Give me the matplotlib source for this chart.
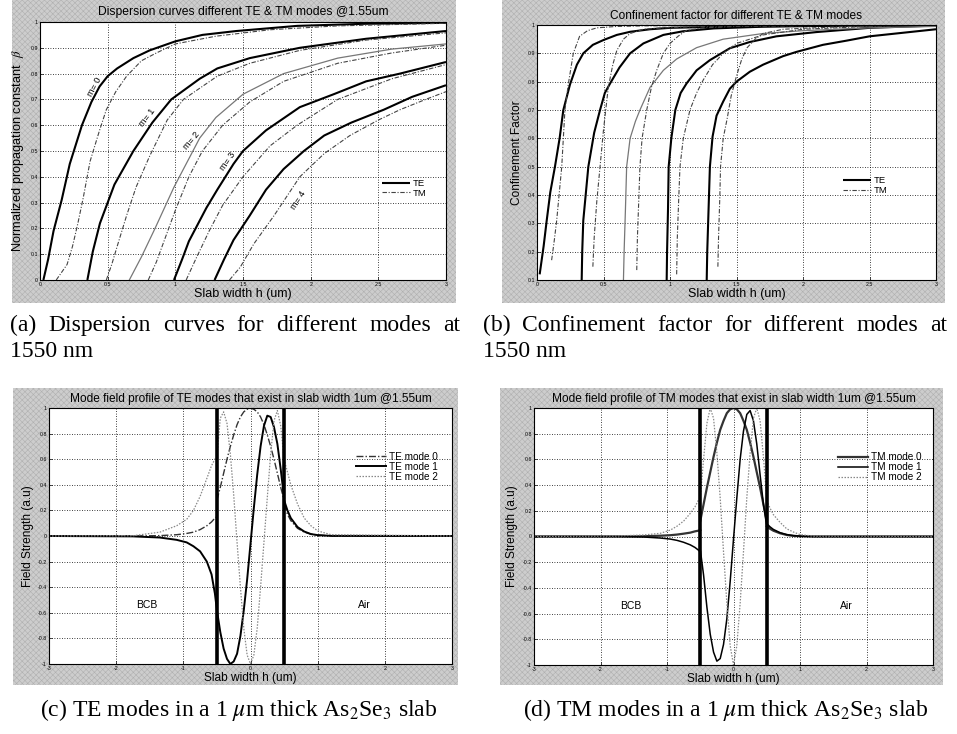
import matplotlib
matplotlib.use("Agg")
import matplotlib.pyplot as plt
from matplotlib.patches import Rectangle

plt.rcParams['font.family'] = ['Liberation Sans', 'DejaVu Sans']
plt.rcParams['mathtext.fontset'] = 'stix'
plt.rcParams['hatch.linewidth'] = 0.4

# ---------------- (a) dispersion curves, h in um, beta normalized ----------------
te0_h = [0.025, 0.06, 0.10, 0.16, 0.22, 0.31, 0.38, 0.44, 0.50, 0.57, 0.69, 0.81, 1.0, 1.2, 1.45, 1.9, 2.4, 3.0]
te0_b = [0.0, 0.08, 0.19, 0.31, 0.45, 0.60, 0.69, 0.75, 0.79, 0.82, 0.86, 0.89, 0.925, 0.95, 0.965, 0.985, 0.993, 0.997]
tm0_h = [0.12, 0.20, 0.24, 0.28, 0.32, 0.37, 0.44, 0.49, 0.56, 0.64, 0.75, 0.86, 1.0, 1.3, 1.7, 2.2, 3.0]
tm0_b = [0.0, 0.06, 0.13, 0.22, 0.32, 0.46, 0.58, 0.66, 0.73, 0.79, 0.85, 0.88, 0.915, 0.945, 0.97, 0.985, 0.995]
te1_h = [0.35, 0.39, 0.443, 0.55, 0.69, 0.83, 0.97, 1.18, 1.31, 1.55, 1.92, 2.41, 3.0]
te1_b = [0.0, 0.11, 0.22, 0.37, 0.50, 0.61, 0.70, 0.78, 0.82, 0.86, 0.90, 0.935, 0.965]
tm1_h = [0.49, 0.53, 0.57, 0.64, 0.71, 0.81, 0.94, 1.06, 1.31, 1.55, 1.92, 2.41, 3.0]
tm1_b = [0.0, 0.06, 0.13, 0.25, 0.36, 0.48, 0.62, 0.70, 0.79, 0.84, 0.89, 0.93, 0.958]
te2_h = [0.66, 0.75, 0.85, 0.99, 1.10, 1.18, 1.30, 1.50, 1.80, 2.20, 2.60, 3.0]
te2_b = [0.0, 0.09, 0.20, 0.36, 0.47, 0.55, 0.63, 0.72, 0.80, 0.86, 0.895, 0.915]
tm2_h = [0.80, 0.86, 0.93, 1.0, 1.1, 1.2, 1.35, 1.55, 1.8, 2.2, 2.6, 3.0]
tm2_b = [0.0, 0.07, 0.17, 0.27, 0.40, 0.50, 0.60, 0.69, 0.77, 0.84, 0.88, 0.91]
te3_h = [0.99, 1.05, 1.10, 1.16, 1.23, 1.31, 1.43, 1.50, 1.67, 1.92, 2.17, 2.41, 2.66, 3.0]
te3_b = [0.0, 0.08, 0.15, 0.21, 0.28, 0.35, 0.45, 0.50, 0.58, 0.67, 0.72, 0.77, 0.80, 0.845]
tm3_h = [1.08, 1.15, 1.25, 1.35, 1.5, 1.7, 1.9, 2.2, 2.6, 3.0]
tm3_b = [0.0, 0.08, 0.19, 0.29, 0.40, 0.52, 0.60, 0.70, 0.78, 0.835]
te4_h = [1.29, 1.36, 1.43, 1.55, 1.67, 1.80, 1.95, 2.10, 2.30, 2.54, 2.75, 3.0]
te4_b = [0.0, 0.08, 0.155, 0.25, 0.35, 0.43, 0.50, 0.56, 0.61, 0.66, 0.71, 0.755]
tm4_h = [1.40, 1.48, 1.58, 1.73, 1.92, 2.10, 2.29, 2.50, 2.66, 2.85, 3.0]
tm4_b = [0.0, 0.05, 0.14, 0.25, 0.40, 0.49, 0.56, 0.62, 0.66, 0.70, 0.73]
m_labels = ['m= 0', 'm= 1', 'm= 2', 'm= 3', 'm= 4']
m_lab_h = [0.40, 0.79, 1.12, 1.39, 1.91]
m_lab_b = [0.75, 0.63, 0.54, 0.46, 0.31]
m_lab_rot = [62, 52, 50, 55, 57]

# ---------------- (b) confinement factor ----------------
cte0_h = [0.02, 0.05, 0.073, 0.10, 0.135, 0.17, 0.198, 0.248, 0.30, 0.348, 0.42, 0.5, 0.6, 0.7, 0.85, 1.0, 1.5, 2.0, 3.0]
cte0_g = [0.12, 0.22, 0.31, 0.41, 0.50, 0.60, 0.70, 0.79, 0.86, 0.90, 0.93, 0.947, 0.965, 0.976, 0.985, 0.99, 0.995, 0.997, 0.999]
ctm0_h = [0.11, 0.13, 0.148, 0.17, 0.186, 0.21, 0.235, 0.273, 0.32, 0.38, 0.45, 0.6, 0.8, 1.2, 2.0, 3.0]
ctm0_g = [0.17, 0.24, 0.31, 0.42, 0.50, 0.70, 0.79, 0.90, 0.96, 0.98, 0.99, 0.995, 0.997, 0.998, 0.999, 1.0]
cte1_h = [0.336, 0.34, 0.348, 0.37, 0.386, 0.43, 0.474, 0.51, 0.55, 0.62, 0.70, 0.8, 0.95, 1.1, 1.33, 1.7, 2.2, 3.0]
cte1_g = [0.1, 0.2, 0.31, 0.42, 0.50, 0.62, 0.70, 0.76, 0.794, 0.85, 0.90, 0.935, 0.965, 0.978, 0.988, 0.994, 0.997, 0.999]
ctm1_h = [0.42, 0.43, 0.45, 0.474, 0.5, 0.536, 0.57, 0.6, 0.65, 0.7, 0.8, 0.95, 1.3, 2.0, 3.0]
ctm1_g = [0.147, 0.25, 0.38, 0.50, 0.63, 0.78, 0.86, 0.91, 0.95, 0.97, 0.985, 0.99, 0.996, 0.998, 1.0]
cte2_h = [0.65, 0.655, 0.665, 0.674, 0.7, 0.74, 0.774, 0.85, 0.95, 1.05, 1.2, 1.4, 1.7, 2.0, 2.5, 3.0]
cte2_g = [0.1, 0.2, 0.35, 0.5, 0.6, 0.66, 0.70, 0.78, 0.84, 0.88, 0.92, 0.95, 0.97, 0.98, 0.99, 0.995]
ctm2_h = [0.75, 0.755, 0.765, 0.774, 0.79, 0.825, 0.86, 0.9, 0.95, 1.0, 1.06, 1.12, 1.25, 1.5, 2.0, 3.0]
ctm2_g = [0.135, 0.25, 0.38, 0.50, 0.6, 0.70, 0.78, 0.84, 0.90, 0.935, 0.96, 0.98, 0.99, 0.995, 0.998, 1.0]
cte3_h = [0.975, 0.978, 0.985, 0.99, 1.01, 1.04, 1.08, 1.125, 1.2, 1.3, 1.45, 1.6, 1.8, 2.1, 2.5, 3.0]
cte3_g = [0.1, 0.2, 0.35, 0.5, 0.6, 0.70, 0.76, 0.794, 0.84, 0.876, 0.918, 0.94, 0.96, 0.975, 0.99, 0.998]
ctm3_h = [1.05, 1.055, 1.065, 1.075, 1.1, 1.15, 1.2, 1.25, 1.32, 1.4, 1.5, 1.7, 2.0, 2.5, 3.0]
ctm3_g = [0.12, 0.25, 0.38, 0.5, 0.6, 0.70, 0.76, 0.806, 0.86, 0.9, 0.935, 0.965, 0.985, 0.995, 1.0]
cte4_h = [1.276, 1.28, 1.29, 1.30, 1.32, 1.35, 1.4, 1.45, 1.5, 1.6, 1.7, 1.85, 1.95, 2.15, 2.33, 2.5, 2.7, 3.0]
cte4_g = [0.1, 0.2, 0.35, 0.5, 0.606, 0.68, 0.73, 0.775, 0.80, 0.835, 0.86, 0.89, 0.905, 0.93, 0.945, 0.96, 0.97, 0.985]
ctm4_h = [1.36, 1.365, 1.375, 1.38, 1.4, 1.43, 1.46, 1.5, 1.54, 1.58, 1.64, 1.7, 1.85, 2.08, 2.5, 3.0]
ctm4_g = [0.147, 0.25, 0.4, 0.5, 0.6, 0.67, 0.75, 0.82, 0.88, 0.92, 0.95, 0.97, 0.985, 0.99, 0.997, 1.0]

# ---------------- (c) TE mode fields ----------------
core_x = [-0.5, -0.45, -0.4, -0.35, -0.3, -0.25, -0.2, -0.15, -0.1, -0.05, 0.0,
          0.05, 0.1, 0.15, 0.2, 0.25, 0.3, 0.35, 0.4, 0.45, 0.5]
left_x = [-3.0, -1.75, -1.35, -1.1, -0.95, -0.85, -0.75, -0.65, -0.58, -0.53, -0.5]
right_x = [0.5, 0.55, 0.6, 0.7, 0.8, 0.9, 1.0, 1.2, 3.0]

te_m0_core = [0.28, 0.38, 0.49, 0.60, 0.70, 0.79, 0.87, 0.93, 0.97, 0.99, 1.0,
              0.99, 0.97, 0.93, 0.87, 0.79, 0.70, 0.60, 0.49, 0.38, 0.28]
te_m0_left = [0.0, 0.0, 0.003, 0.01, 0.02, 0.03, 0.05, 0.08, 0.11, 0.14, 0.15]
te_m0_right = [0.25, 0.17, 0.12, 0.06, 0.03, 0.015, 0.007, 0.001, 0.0]
te_m1_core = [-0.58, -0.75, -0.88, -0.96, -1.0, -0.98, -0.92, -0.78, -0.58, -0.34, -0.06,
              0.22, 0.48, 0.70, 0.86, 0.94, 0.93, 0.85, 0.72, 0.52, 0.30]
te_m1_left = [0.0, -0.003, -0.012, -0.03, -0.05, -0.08, -0.12, -0.2, -0.3, -0.45, -0.58]
te_m1_right = [0.28, 0.2, 0.14, 0.07, 0.035, 0.015, 0.007, 0.001, 0.0]
te_m2_core = [0.62, 0.92, 0.97, 0.88, 0.64, 0.32, -0.05, -0.40, -0.72, -0.93, -1.0,
              -0.93, -0.72, -0.40, -0.05, 0.30, 0.64, 0.90, 0.98, 0.86, 0.60]
te_m2_left = [0.0, 0.002, 0.03, 0.08, 0.13, 0.2, 0.31, 0.45, 0.55, 0.6, 0.62]
te_m2_right = [0.6, 0.5, 0.4, 0.25, 0.14, 0.08, 0.04, 0.01, 0.0]

# ---------------- (d) TM mode fields ----------------
tm_m0_core = [0.12, 0.25, 0.38, 0.50, 0.62, 0.73, 0.83, 0.90, 0.96, 0.99, 1.0,
              0.99, 0.96, 0.90, 0.83, 0.73, 0.62, 0.50, 0.38, 0.25, 0.12]
tm_m0_left = [0.0, 0.0, 0.002, 0.006, 0.01, 0.015, 0.022, 0.03, 0.04, 0.045, 0.05]
tm_m0_right = [0.08, 0.06, 0.045, 0.025, 0.012, 0.005, 0.002, 0.0, 0.0]
tm_m1_core = [-0.10, -0.30, -0.55, -0.76, -0.90, -0.97, -0.95, -0.84, -0.64, -0.35, -0.02,
              0.30, 0.60, 0.82, 0.95, 0.98, 0.90, 0.72, 0.48, 0.25, 0.08]
tm_m1_left = [0.0, 0.0, -0.004, -0.012, -0.02, -0.03, -0.045, -0.065, -0.085, -0.105, -0.12]
tm_m1_right = [0.10, 0.075, 0.055, 0.03, 0.015, 0.007, 0.003, 0.0, 0.0]
tm_m2_core = [0.30, 0.60, 0.88, 1.0, 0.92, 0.65, 0.30, -0.12, -0.52, -0.85, -1.0,
              -0.85, -0.52, -0.12, 0.30, 0.65, 0.92, 1.0, 0.90, 0.62, 0.30]
tm_m2_left = [0.0, 0.004, 0.012, 0.025, 0.05, 0.08, 0.12, 0.18, 0.23, 0.28, 0.30]
tm_m2_right = [0.28, 0.22, 0.17, 0.11, 0.06, 0.035, 0.015, 0.003, 0.0]

cap_a = ['(a) Dispersion curves for different modes at', '1550 nm']
cap_b = ['(b) Confinement factor for different modes at', '1550 nm']
cap_c = r'(c) TE modes in a 1 $\mu$m thick As$_2$Se$_3$ slab'
cap_d = r'(d) TM modes in a 1 $\mu$m thick As$_2$Se$_3$ slab'

W, H = 957, 734
fig = plt.figure(figsize=(W / 100, H / 100), dpi=100)
fig.patch.set_facecolor('white')

# scanned (halftoned) grey frames behind each matlab figure
for (x0, y0, x1, y1) in [(12, 0, 456, 303), (502, 0, 945, 303), (13, 388, 458, 685), (500, 388, 943, 685)]:
    fig.patches.append(Rectangle((x0 / W, 1 - y1 / H), (x1 - x0) / W, (y1 - y0) / H,
                                 transform=fig.transFigure, facecolor='#cdcdcd', edgecolor='#b0b0b0',
                                 hatch='xxxxxx', linewidth=0, zorder=-10))


def make_ax(px):
    l, t, r, b = px
    ax = fig.add_axes([l / W, 1 - b / H, (r - l) / W, (b - t) / H])
    ax.set_facecolor('white')
    ax.grid(True, linestyle=(0, (1, 2)), color='black', linewidth=0.6)
    ax.tick_params(direction='in', length=2.5, labelsize=3.8, pad=1.5, width=0.5)
    for s in ax.spines.values():
        s.set_linewidth(0.8)
    return ax


TEK = dict(color='black', linewidth=1.5, solid_capstyle='butt')
TMK = dict(color='#444444', linewidth=0.8, linestyle=(0, (4, 1.5, 1, 1.5)))

# (a)
ax = make_ax((40, 22, 446, 280))
ax.plot(te0_h, te0_b, **TEK)
ax.plot(te1_h, te1_b, **TEK)
ax.plot(te2_h, te2_b, color='#777777', linewidth=0.9)
ax.plot(te3_h, te3_b, **TEK)
ax.plot(te4_h, te4_b, **TEK)
for hh, bb in [(tm0_h, tm0_b), (tm1_h, tm1_b), (tm2_h, tm2_b), (tm3_h, tm3_b), (tm4_h, tm4_b)]:
    ax.plot(hh, bb, **TMK)
for lab, xx, yy, rr in zip(m_labels, m_lab_h, m_lab_b, m_lab_rot):
    ax.text(xx, yy, lab, rotation=rr, fontsize=6.5, ha='center', va='center')
ax.set_xlim(0, 3)
ax.set_ylim(0, 1)
ax.set_xticks([0, 0.5, 1, 1.5, 2, 2.5, 3])
ax.set_xticklabels(['0', '0.5', '1', '1.5', '2', '2.5', '3'])
ax.set_yticks([i / 10 for i in range(11)])
ax.set_yticklabels(['0', '0.1', '0.2', '0.3', '0.4', '0.5', '0.6', '0.7', '0.8', '0.9', '1'])
ax.plot([], [], label='TE', **TEK)
ax.plot([], [], label='TM', **TMK)
ax.legend(loc='center left', bbox_to_anchor=(0.83, 0.355), frameon=False, fontsize=6.8,
          handlelength=3.0, labelspacing=0.05, handletextpad=0.3, borderpad=0)
ax.set_title('Dispersion curves different TE & TM modes @1.55um', fontsize=8.7, pad=5)
ax.set_xlabel('Slab width h (um)', fontsize=9, labelpad=1)
ax.set_ylabel(r'Normalized propagation constant  $\beta$', fontsize=9.2, labelpad=3)

# (b)
ax = make_ax((537, 25, 936, 280))
for hh, gg in [(cte0_h, cte0_g), (cte1_h, cte1_g), (cte3_h, cte3_g), (cte4_h, cte4_g)]:
    ax.plot(hh, gg, **TEK)
ax.plot(cte2_h, cte2_g, color='#777777', linewidth=0.9)
for hh, gg in [(ctm0_h, ctm0_g), (ctm1_h, ctm1_g), (ctm2_h, ctm2_g), (ctm3_h, ctm3_g), (ctm4_h, ctm4_g)]:
    ax.plot(hh, gg, **TMK)
ax.set_xlim(0, 3)
ax.set_ylim(0.1, 1)
ax.set_xticks([0, 0.5, 1, 1.5, 2, 2.5, 3])
ax.set_xticklabels(['0', '0.5', '1', '1.5', '2', '2.5', '3'])
ax.set_yticks([i / 10 for i in range(1, 11)])
ax.set_yticklabels(['0.1', '0.2', '0.3', '0.4', '0.5', '0.6', '0.7', '0.8', '0.9', '1'])
ax.plot([], [], label='TE', **TEK)
ax.plot([], [], label='TM', **TMK)
ax.legend(loc='center left', bbox_to_anchor=(0.755, 0.37), frameon=False, fontsize=6.8,
          handlelength=3.0, labelspacing=0.05, handletextpad=0.3, borderpad=0)
ax.set_title('Confinement factor for different TE & TM modes', fontsize=8.6, pad=4)
ax.set_xlabel('Slab width h (um)', fontsize=9, labelpad=1)
ax.set_ylabel('Confinement Factor', fontsize=8.6, labelpad=3)


def field_panel(px, core, left, right, styles, names, title):
    ax = make_ax(px)
    for c, lft, rgt, st, nm in zip(core, left, right, styles, names):
        ax.plot(core_x, c, label=nm, **st)
        ax.plot(left_x, lft, **st)
        ax.plot(right_x, rgt, **st)
    ax.axvline(-0.5, color='black', linewidth=2.6)
    ax.axvline(0.5, color='black', linewidth=2.6)
    ax.text(-1.55, -0.54, 'BCB', fontsize=7.5, ha='center', va='center')
    ax.text(1.7, -0.54, 'Air', fontsize=7.5, ha='center', va='center')
    ax.set_xlim(-3, 3)
    ax.set_ylim(-1, 1)
    ax.set_xticks([-3, -2, -1, 0, 1, 2, 3])
    ax.set_xticklabels(['-3', '-2', '-1', '0', '1', '2', '3'])
    ax.set_yticks([-1, -0.8, -0.6, -0.4, -0.2, 0, 0.2, 0.4, 0.6, 0.8, 1])
    ax.set_yticklabels(['-1', '-0.8', '-0.6', '-0.4', '-0.2', '0', '0.2', '0.4', '0.6', '0.8', '1'])
    ax.legend(loc='center left', bbox_to_anchor=(0.75, 0.77), frameon=False, fontsize=7.2,
              handlelength=3.0, labelspacing=0.0, handletextpad=0.3, borderpad=0)
    ax.set_title(title, fontsize=8.6, pad=4)
    ax.set_xlabel('Slab width h (um)', fontsize=8.6, labelpad=1)
    ax.set_ylabel('Field Strength (a.u)', fontsize=8.6, labelpad=3)
    return ax


te_styles = [dict(color='#333333', linewidth=1.0, linestyle=(0, (5, 1.5, 1, 1.5))),
             dict(color='black', linewidth=1.4),
             dict(color='#888888', linewidth=0.9, linestyle=(0, (1.2, 1.2)))]
tm_styles = [dict(color='#333333', linewidth=1.6),
             dict(color='black', linewidth=1.1),
             dict(color='#888888', linewidth=0.9, linestyle=(0, (1.2, 1.2)))]

field_panel((49, 408, 452, 664), [te_m0_core, te_m1_core, te_m2_core],
            [te_m0_left, te_m1_left, te_m2_left], [te_m0_right, te_m1_right, te_m2_right],
            te_styles, ['TE mode 0', 'TE mode 1', 'TE mode 2'],
            'Mode field profile of TE modes that exist in slab width 1um @1.55um')
field_panel((534, 408, 933, 665), [tm_m0_core, tm_m1_core, tm_m2_core],
            [tm_m0_left, tm_m1_left, tm_m2_left], [tm_m0_right, tm_m1_right, tm_m2_right],
            tm_styles, ['TM mode 0', 'TM mode 1', 'TM mode 2'],
            'Mode field profile of TM modes that exist in slab width 1um @1.55um')

# captions (Times-like); first lines of (a), (b) are justified to the column width
CAP = dict(fontsize=17, family='Liberation Serif', va='baseline')
renderer = fig.canvas.get_renderer()


def justified(line, x0, x1, ybase):
    words = line.split(' ')
    arts = [fig.text(0, 1 - ybase / H, w, **CAP) for w in words]
    widths = [a.get_window_extent(renderer).width for a in arts]
    gap = (x1 - x0 - sum(widths)) / (len(words) - 1)
    x = x0
    for a, w in zip(arts, widths):
        a.set_x(x / W)
        x += w + gap


justified(cap_a[0], 10, 460, 331)
fig.text(10 / W, 1 - 357 / H, cap_a[1], **CAP)
justified(cap_b[0], 483, 947, 331)
fig.text(483 / W, 1 - 357 / H, cap_b[1], **CAP)
fig.text(40 / W, 1 - 716 / H, cap_c, **CAP)
fig.text(523 / W, 1 - 716 / H, cap_d, **CAP)

fig.savefig('out.png', dpi=100)
